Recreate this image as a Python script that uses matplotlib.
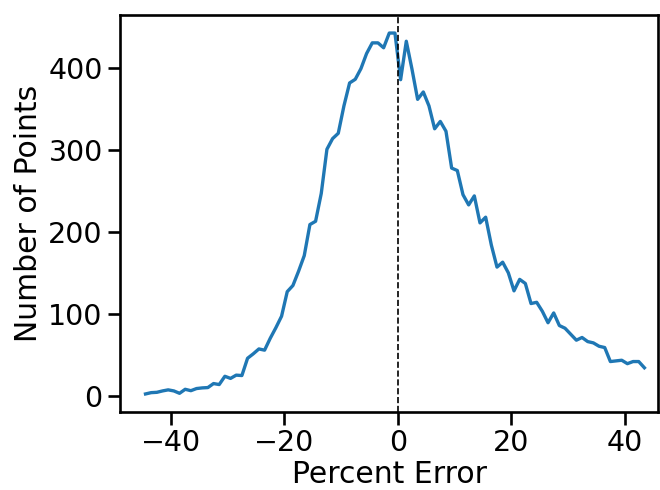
import numpy as np
import matplotlib
matplotlib.use("Agg")
import matplotlib.pyplot as plt

percent_error = np.arange(-44.5, 44.0, 1.0)
counts = [2, 3.6, 4, 5.7, 7, 5.7, 2.8, 7.7, 6, 8.6,
          9.4, 9.8, 14.7, 13.5, 23.6, 21, 25, 24.5, 45.6, 51,
          57, 55.5, 70, 83, 97, 127, 134.5, 152, 171, 209,
          213, 247, 301, 314, 320.5, 354, 382, 386.5, 399.5, 418,
          431, 431, 425, 443, 443, 386, 433, 399, 362, 371,
          354, 326, 335, 323, 278, 275, 245.5, 233, 244, 211,
          218, 184, 157, 163, 150, 128, 142, 137, 112.5, 114,
          103, 89, 101, 85.6, 82.3, 75, 67.7, 71, 66, 64.4,
          60.3, 58.7, 41.6, 42.4, 43.2, 39, 41.6, 41.6, 34]

plt.rcParams.update({
    "font.size": 20,
    "axes.labelsize": 21.5,
    "xtick.labelsize": 20.5,
    "ytick.labelsize": 20.5,
    "axes.linewidth": 1.9,
    "xtick.major.size": 9,
    "ytick.major.size": 9,
    "xtick.major.width": 1.9,
    "ytick.major.width": 1.9,
})

fig = plt.figure(figsize=(6.6, 4.9), dpi=100)
ax = fig.add_axes([120/660, 1-412/490, (658-120)/660, (412-15)/490])
ax.plot(percent_error, counts, color="#1f77b4", linewidth=2.4)
ax.axvline(0, color="black", linestyle="--", linewidth=1.2)
ax.set_xlim(-49, 45.9)
ax.set_xlabel("Percent Error", labelpad=2)
ax.set_ylabel("Number of Points")
fig.savefig("out.png", dpi=100)
